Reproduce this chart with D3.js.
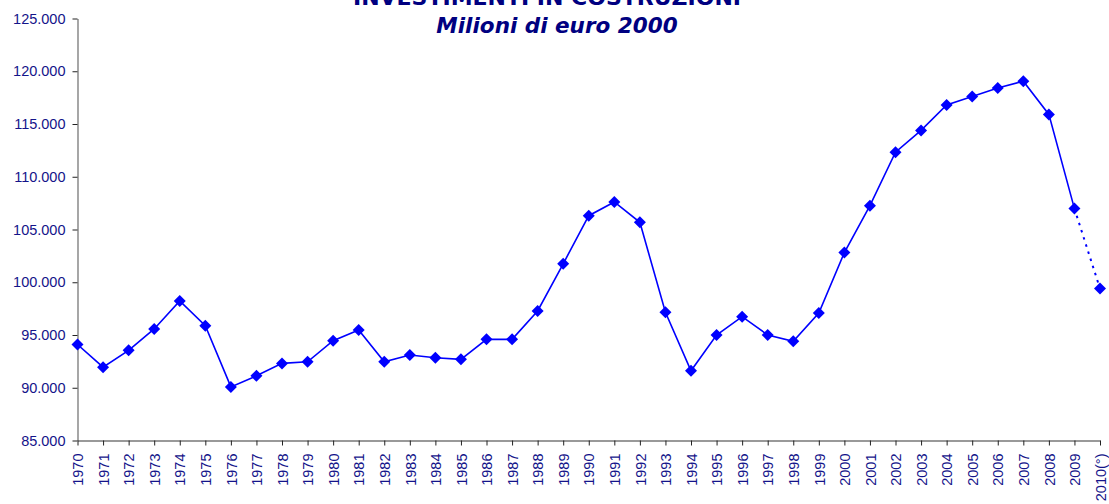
<!DOCTYPE html>
<html>
<head>
<meta charset="utf-8">
<script src="https://cdn.jsdelivr.net/npm/d3@7"></script>
<style>
  body { margin: 0; background: #fff; }
  svg { display: block; }
</style>
</head>
<body>
<div id="chart"></div>
<script>
// chart data
var years = ['1970','1971','1972','1973','1974','1975','1976','1977','1978','1979',
             '1980','1981','1982','1983','1984','1985','1986','1987','1988','1989',
             '1990','1991','1992','1993','1994','1995','1996','1997','1998','1999',
             '2000','2001','2002','2003','2004','2005','2006','2007','2008','2009','2010(°)'];
var investimenti = [94100, 91950, 93550, 95570, 98230, 95880, 90080, 91130, 92310, 92460,
                    94460, 95480, 92460, 93100, 92850, 92690, 94590, 94590, 97280, 101750,
                    106310, 107610, 105680, 97160, 91610, 95000, 96740, 95000, 94400, 97090,
                    102820, 107260, 112330, 114390, 116800, 117600, 118410, 119050, 115910, 106980, 99400];
var yTicks = [85000, 90000, 95000, 100000, 105000, 110000, 115000, 120000, 125000];
var titleLines = ['INVESTIMENTI IN COSTRUZIONI', 'Milioni di euro 2000'];

var chartWidth = 1109, chartHeight = 504;
var plotLeft = 77.5, plotRight = 1100, plotTop = 18.5, plotBottom = 440.5;
var navy = '#000080', blue = '#0000ff', axisGrey = '#777';

var itFormat = d3.formatLocale({decimal: ',', thousands: '.', grouping: [3], currency: ['', '']}).format(',.0f');

var svg = d3.select('#chart').append('svg')
    .attr('width', chartWidth)
    .attr('height', chartHeight);

var x = d3.scalePoint().domain(years).range([plotLeft, plotRight]).padding(0);
var y = d3.scaleLinear().domain([85000, 125000]).range([plotBottom, plotTop]);

// titles (first line is cut by the top edge, as in the original)
svg.append('text')
    .attr('x', 547).attr('y', 5)
    .attr('text-anchor', 'middle')
    .style('font-family', 'DejaVu Sans')
    .style('font-weight', 'bold')
    .style('font-size', '22px')
    .style('fill', navy)
    .text(titleLines[0]);

svg.append('text')
    .attr('x', 557).attr('y', 33)
    .attr('text-anchor', 'middle')
    .style('font-family', 'DejaVu Sans')
    .style('font-weight', 'bold')
    .style('font-style', 'italic')
    .style('font-size', '21.5px')
    .style('fill', navy)
    .text(titleLines[1]);

// y axis
var yAxis = svg.append('g')
    .attr('transform', 'translate(' + plotLeft + ',0)')
    .call(d3.axisLeft(y).tickValues(yTicks).tickFormat(itFormat).tickSize(5).tickPadding(7).tickSizeOuter(0));

// x axis
var xAxis = svg.append('g')
    .attr('transform', 'translate(0,' + plotBottom + ')')
    .call(d3.axisBottom(x).tickSize(5).tickSizeOuter(0));

xAxis.selectAll('text')
    .attr('transform', 'rotate(-90)')
    .attr('x', -13)
    .attr('y', 0)
    .attr('dy', '0.36em')
    .style('text-anchor', 'end');

[xAxis, yAxis].forEach(function(ax) {
    ax.selectAll('.domain').attr('stroke', axisGrey).attr('stroke-width', 1.3);
    ax.selectAll('.tick line').attr('stroke', '#222');
    ax.selectAll('text')
        .style('font-family', 'Liberation Sans, Arial, sans-serif')
        .style('font-size', '14.5px')
        .style('fill', '#14148a');
});

// series line: solid up to 2009, dotted for the estimate
var points = years.map(function(d, i) { return {year: d, value: investimenti[i]}; });
var line = d3.line().x(function(d) { return x(d.year); }).y(function(d) { return y(d.value); });

svg.append('path')
    .datum(points.slice(0, points.length - 1))
    .attr('d', line)
    .attr('fill', 'none')
    .attr('stroke', blue)
    .attr('stroke-width', 1.6);

svg.append('path')
    .datum(points.slice(points.length - 2))
    .attr('d', line)
    .attr('fill', 'none')
    .attr('stroke', blue)
    .attr('stroke-width', 2)
    .attr('stroke-dasharray', '2.5,5');

// diamond markers
svg.append('g').selectAll('path')
    .data(points)
    .enter().append('path')
    .attr('transform', function(d) { return 'translate(' + x(d.year) + ',' + y(d.value) + ')'; })
    .attr('d', 'M0,-6L6,0L0,6L-6,0Z')
    .attr('fill', blue);
</script>
</body>
</html>
